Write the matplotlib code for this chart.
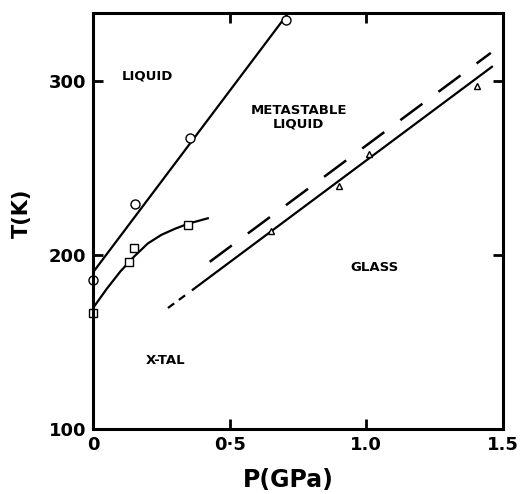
import matplotlib
matplotlib.use("Agg")
import matplotlib.pyplot as plt
import numpy as np

# data
circ_p = [0.0, 0.153, 0.354, 0.708]
circ_t = [185.5, 229, 267, 335]

sq_p = [0.0, 0.131, 0.150, 0.347]
sq_t = [166.7, 196, 204, 217]

tri_p = [0.653, 0.901, 1.011, 1.405]
tri_t = [213.5, 239.5, 258, 297]

# melting line (liquid / x-tal)
melt_p = [0.0, 0.715]
melt_t = [190, 339]

# liquid / crystal boundary curve
xtal_p = [0.0, 0.05, 0.10, 0.15, 0.20, 0.25, 0.30, 0.35, 0.42]
xtal_t = [169.5, 180.5, 190.5, 199, 206.5, 211.5, 215, 218, 221]

# glass line: solid part and short-dash extension
glass_p = [0.365, 1.46]
glass_t = [180, 308]
glass_ext_p = [0.274, 0.345]
glass_ext_t = [169.5, 177.7]

# dashed line
dash_p = [0.427, 1.456]
dash_t = [196, 316]

labels = [("LIQUID", 0.20, 303), ("METASTABLE\nLIQUID", 0.752, 279),
          ("GLASS", 1.03, 192.5), ("X-TAL", 0.267, 139.6)]

plt.rcParams['font.family'] = ['DejaVu Sans']
fig = plt.figure(figsize=(5.2, 4.94), dpi=100)
ax = fig.add_axes([0.179, 0.1316, 0.788, 0.8424])

ax.plot(melt_p, melt_t, c='k', lw=1.6)
ax.plot(xtal_p, xtal_t, c='k', lw=1.6)
ax.plot(glass_p, glass_t, c='k', lw=1.6)
ax.plot(glass_ext_p, glass_ext_t, c='k', lw=1.6, dashes=(3.5, 2.6))
ax.plot(dash_p, dash_t, c='k', lw=1.8, dashes=(11, 8))

ax.plot(circ_p, circ_t, 'o', mfc='white', mec='k', ms=6.5, mew=1.0, clip_on=False)
ax.plot(sq_p, sq_t, 's', mfc='white', mec='k', ms=5.5, mew=1.0, clip_on=False)
ax.plot(tri_p, tri_t, '^', mfc='white', mec='k', ms=5, mew=1.0, clip_on=False)

for txt, x, y in labels:
    ax.text(x, y, txt, ha='center', va='center', fontsize=9.5,
            fontweight='bold', linespacing=1.1)

ax.set_xlim(0, 1.5)
ax.set_ylim(100, 339)
ax.set_xticks([0, 0.5, 1.0, 1.5])
ax.set_xticklabels(["0", "0·5", "1.0", "1.5"])
ax.set_yticks([100, 200, 300])
for s in ax.spines.values():
    s.set_linewidth(2.2)
ax.tick_params(direction='in', length=7, width=2, top=True, right=True,
               labelsize=13, pad=5)
for lab in ax.get_xticklabels() + ax.get_yticklabels():
    lab.set_fontweight('bold')

ax.set_xlabel("P(GPa)", fontsize=17, fontweight='bold')
ax.set_ylabel("T(K)", fontsize=15, fontweight='bold')
ax.xaxis.set_label_coords(0.476, -0.093)
ax.yaxis.set_label_coords(-0.15, 0.519)

fig.savefig("out.png", dpi=100)
